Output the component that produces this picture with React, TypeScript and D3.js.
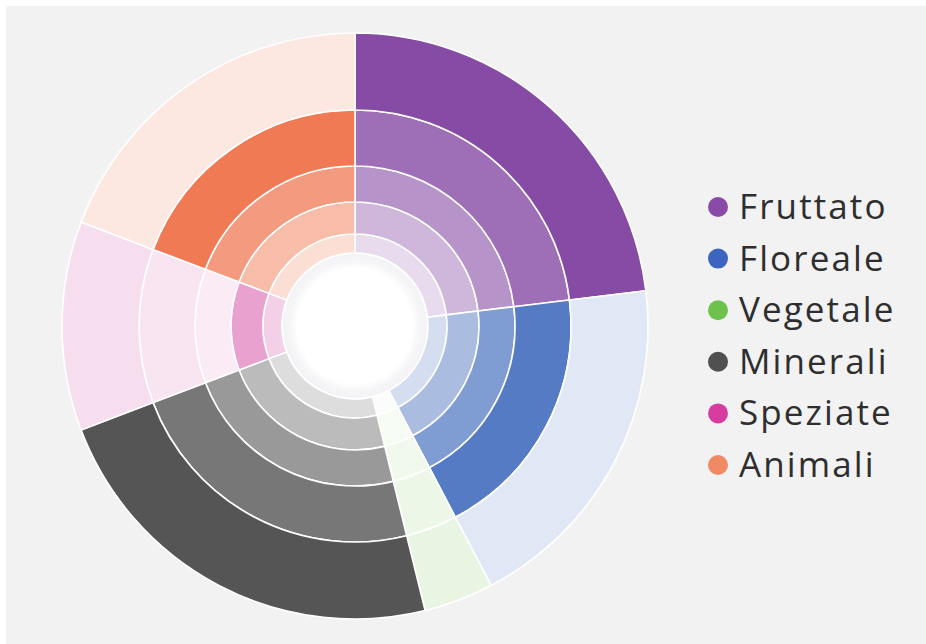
import React from "react";
import * as d3 from "d3";

const categories = ["Fruttato", "Floreale", "Vegetale", "Minerali", "Speziate", "Animali"];
const weights = [6, 5, 1, 6, 3, 5];
const levels = [5, 4, 0, 5, 2, 4];
const baseColors = ["#864ba5", "#2a5ab5", "#5cb82e", "#555555", "#c8168a", "#ec5929"];
const legendColors = ["#8a4aa8", "#3d64bf", "#6cc24a", "#505050", "#d63d9f", "#f08a64"];
const ringSteps = [0, 1, 2, 3, 4, 5];

const W = 926;
const H = 644;
const cx = 355;
const cy = 326;

export default function App() {
  const ringRadius = d3.scaleLinear().domain(ringSteps).range([73, 92, 124, 160, 216, 293]);
  const data = categories.map((c, i) => ({ name: c, weight: weights[i], level: levels[i], color: baseColors[i] }));
  const pie = d3.pie<any>().value((d) => d.weight).sort(null);
  const slices = pie(data);
  const arc = d3.arc<any>();
  const nRings = ringSteps.length - 1;

  const cells: any[] = [];
  slices.forEach((s, si) => {
    for (let k = 1; k <= nRings; k++) {
      const filled = k <= s.data.level;
      const t = filled ? k / nRings : 0.028 * k;
      const fill = d3.interpolateRgb("#ffffff", s.data.color)(t);
      cells.push({
        key: `${si}-${k}`,
        d: arc({
          innerRadius: ringRadius(k - 1),
          outerRadius: ringRadius(k),
          startAngle: s.startAngle,
          endAngle: s.endAngle,
        }),
        fill,
      });
    }
  });

  const legendY = d3.scalePoint<string>().domain(categories).range([207, 465]);

  return (
    <div style={{ position: "fixed", left: 0, top: 0 }}>
      <svg width={W} height={H} style={{ display: "block" }}>
        <defs>
          <radialGradient id="hole">
            <stop offset="0%" stopColor="#ffffff" />
            <stop offset="80%" stopColor="#ffffff" />
            <stop offset="90%" stopColor="#f6f6f8" />
            <stop offset="100%" stopColor="#f3f3f6" />
          </radialGradient>
        </defs>
        <rect x={0} y={0} width={W} height={H} fill="#ffffff" />
        <rect x={6} y={6} width={W - 6} height={H - 6} fill="#f2f2f2" />
        <g transform={`translate(${cx},${cy})`}>
          <circle r={ringRadius(nRings)} fill="#ffffff" />
          {cells.map((c) => (
            <path key={c.key} d={c.d} fill={c.fill} stroke="#ffffff" strokeWidth={1.6} strokeLinejoin="round" />
          ))}
          <circle r={ringRadius(0) - 1} fill="url(#hole)" />
        </g>
        <g>
          {categories.map((c, i) => (
            <g key={c} transform={`translate(0,${legendY(c)})`}>
              <circle cx={718} cy={0} r={10} fill={legendColors[i]} />
              <text x={739} y={12} fontFamily="'Open Sans', Lato, sans-serif" fontSize={35} fill="#2e2e2e" letterSpacing={2.1}>
                {c}
              </text>
            </g>
          ))}
        </g>
      </svg>
    </div>
  );
}
